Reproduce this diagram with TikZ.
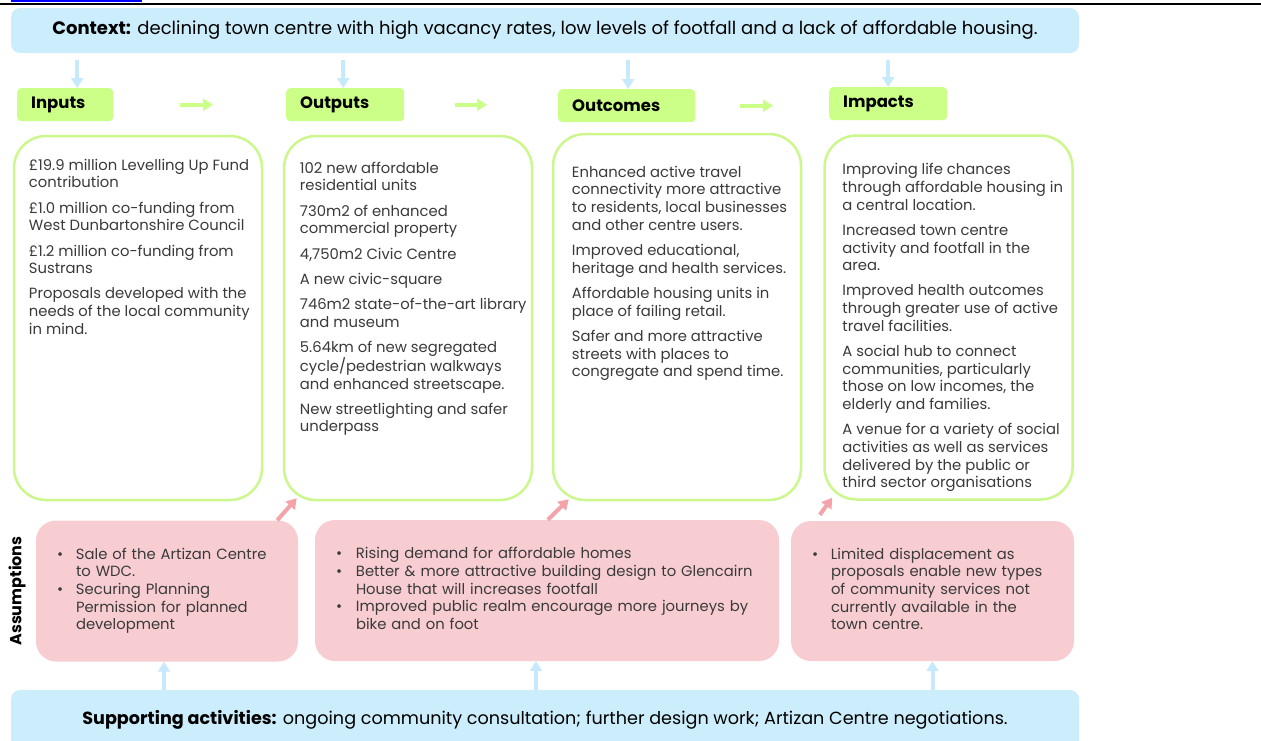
\documentclass[tikz,border=0pt]{standalone}
\usepackage{fontspec}
\setmainfont{Poppins}
\usetikzlibrary{arrows.meta,positioning}

\definecolor{ctxblue}{HTML}{CCEEFC}
\definecolor{headgreen}{HTML}{CCFF88}
\definecolor{rimgreen}{HTML}{CCF78C}
\definecolor{asspink}{HTML}{F7CDD1}
\definecolor{pinkarr}{HTML}{F4A3AA}
\definecolor{bluearr}{HTML}{C6E9FB}
\definecolor{bodytext}{HTML}{3A3A3A}

% gap between two items of one box
\newcommand\itemgap{\\[7.5pt]}

\begin{document}
\begin{tikzpicture}[x=1pt, y=1pt, font=\fontsize{14.8}{17.7}\selectfont, text=bodytext,
  band/.style={fill=ctxblue, rounded corners=9pt, minimum width=1068, minimum height=45, inner sep=0, font=\fontsize{18}{20}\selectfont, text=black},
  head/.style={fill=headgreen, rounded corners=4pt, minimum height=33, inner xsep=14pt, inner ysep=0, text width=#1, align=left, anchor=north west, font=\fontsize{16.5}{18}\selectfont\bfseries, text=black},
  bigbox/.style={draw=rimgreen, line width=2.5pt, rounded corners=32pt, fill=white, minimum width=248, minimum height=364, inner sep=0},
  boxtext/.style={anchor=north west, inner sep=0, align=left},
  assume/.style={fill=asspink, rounded corners=20pt, inner xsep=21pt, inner ysep=0, text width=#1, align=left, minimum height=141},
  garr/.style={-{Triangle[length=10pt, width=12pt]}, line width=4pt, draw=headgreen},
  barr/.style={-{Triangle[length=10pt, width=12pt]}, line width=4pt, draw=bluearr},
  parr/.style={-{Triangle[length=10pt, width=12pt]}, line width=4pt, draw=pinkarr}]
  \clip (0,0) rectangle (1261,-740);
  % clipped heading rule above the chart
  \fill[blue] (11,0) rectangle (142,-1.5);
  \draw[line width=2pt] (0,-3.5) -- (1261,-3.5);
  % context and supporting bands
  \node[band] (ctx) at (545,-30.5) {\textbf{Context:} declining town centre with high vacancy rates, low levels of footfall and a lack of affordable housing.};
  \node[band, minimum height=60, font=\fontsize{17.6}{20}\selectfont] (sup) at (545,-720) {\textbf{Supporting activities:} ongoing community consultation; further design work; Artizan Centre negotiations.};
  % headers
  \node[head=68]  (inhd)  at (17,-88)  {Inputs};
  \node[head=90]  (outhd) at (286,-88) {Outputs};
  \node[head=109] (ochd)  at (558,-89) {Outcomes};
  \node[head=90]  (imhd)  at (829,-87) {Impacts};
  % big boxes
  \node[bigbox] (inbox)  at (138,-318)   {};
  \node[bigbox] (outbox) at (408,-318)   {};
  \node[bigbox, minimum height=366] (ocbox) at (677,-317) {};
  \node[bigbox] (imbox)  at (948.5,-317.5) {};
  \node[boxtext] (intext) at ([xshift=16, yshift=-24]inbox.north west) {%
    £19.9 million Levelling Up Fund\\contribution\itemgap
    £1.0 million co-funding from\\West Dunbartonshire Council\itemgap
    £1.2 million co-funding from\\Sustrans\itemgap
    Proposals developed with the\\needs of the local community\\in mind.};
  \node[boxtext] (outtext) at ([xshift=17, yshift=-27]outbox.north west) {%
    102 new affordable\\residential units\itemgap
    730m2 of enhanced\\commercial property\itemgap
    4,750m2 Civic Centre\itemgap
    A new civic-square\itemgap
    746m2 state-of-the-art library\\and museum\itemgap
    5.64km of new segregated\\cycle/pedestrian walkways\\and enhanced streetscape.\itemgap
    New streetlighting and safer\\underpass};
  \node[boxtext] (octext) at ([xshift=20, yshift=-33]ocbox.north west) {%
    Enhanced active travel\\connectivity more attractive\\to residents, local businesses\\and other centre users.\itemgap
    Improved educational,\\heritage and health services.\itemgap
    Affordable housing units in\\place of failing retail.\itemgap
    Safer and more attractive\\streets with places to\\congregate and spend time.};
  \node[boxtext] (imtext) at ([xshift=19, yshift=-29]imbox.north west) {%
    Improving life chances\\through affordable housing in\\a central location.\itemgap
    Increased town centre\\activity and footfall in the\\area.\itemgap
    Improved health outcomes\\through greater use of active\\travel facilities.\itemgap
    A social hub to connect\\communities, particularly\\those on low incomes, the\\elderly and families.\itemgap
    A venue for a variety of social\\activities as well as services\\delivered by the public or\\third sector organisations};
  % assumptions
  \node[rotate=90, font=\fontsize{16}{18}\selectfont\bfseries, text=black] (asslab) at (17,-591) {Assumptions};
  \node[assume=220] (as1) at (167,-591) {%
    \begin{tabular}{@{}p{19pt}@{}l@{}}
      • & Sale of the Artizan Centre\\
        & to WDC.\\
      • & Securing Planning\\
        & Permission for planned\\
        & development
    \end{tabular}};
  \node[assume=422] (as2) at (547,-590.5) {%
    \begin{tabular}{@{}p{20pt}@{}l@{}}
      • & Rising demand for affordable homes\\
      • & Better \& more attractive building design to Glencairn\\
        & House that will increases footfall\\
      • & Improved public realm encourage more journeys by\\
        & bike and on foot
    \end{tabular}};
  \node[assume=241, minimum height=140] (as3) at (932.5,-591) {%
    \begin{tabular}{@{}p{19pt}@{}l@{}}
      • & Limited displacement as\\
        & proposals enable new types\\
        & of community services not\\
        & currently available in the\\
        & town centre.
    \end{tabular}};
  % connectors
  \draw[barr, shorten <=7pt] (ctx.south -| inhd.north) ++(12,0) coordinate (c1) -- (c1 |- inhd.north);
  \draw[barr, shorten <=7pt] (ctx.south -| outhd.north) ++(-2,0) coordinate (c2) -- (c2 |- outhd.north);
  \draw[barr, shorten <=7pt] (ctx.south -| ochd.north) ++(1.5,0) coordinate (c3) -- (c3 |- ochd.north);
  \draw[barr, shorten <=7pt] (ctx.south -| imhd.north) coordinate (c4) -- (c4 |- imhd.north);
  \draw[garr, shorten <=67pt, shorten >=73pt] (inhd.east) -- (inhd.east -| outhd.west);
  \draw[garr, shorten <=51pt, shorten >=71pt] (outhd.east) -- (outhd.east -| ochd.west);
  \draw[garr, shorten <=45pt, shorten >=56pt] (ochd.east) -- (ochd.east -| imhd.west);
  \draw[parr] ([xshift=-21]as1.north east) -- ([xshift=14, yshift=3]outbox.south west);
  \draw[parr] ([xshift=233]as2.north west) -- ([xshift=17, yshift=2]ocbox.south west);
  \draw[parr] ([xshift=29, yshift=6]as3.north west) -- ([xshift=9, yshift=3]imbox.south west);
  \draw[barr] ([xshift=-3]sup.north -| as1.south) -- ([xshift=-3]as1.south);
  \draw[barr] ([xshift=-11]sup.north -| as2.south) -- ([xshift=-11]as2.south);
  \draw[barr] (sup.north -| as3.south) -- (as3.south);
\end{tikzpicture}
\end{document}
